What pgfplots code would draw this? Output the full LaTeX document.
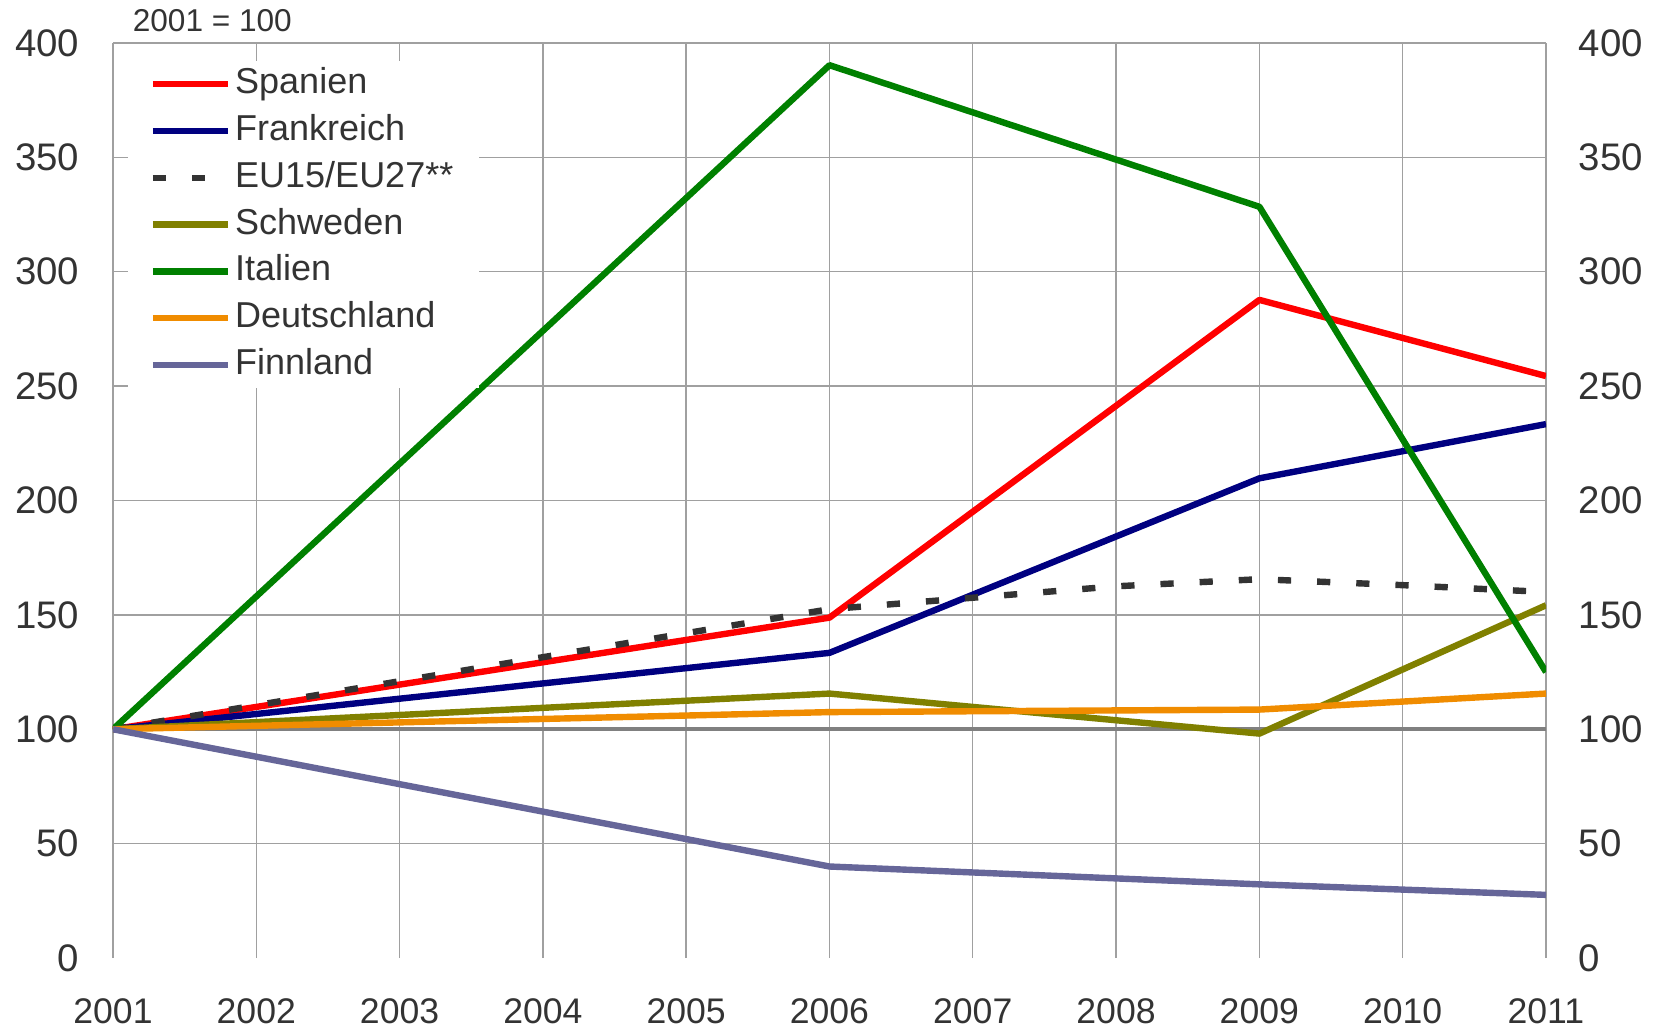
\documentclass[border=0pt]{standalone}
\usepackage{fontspec}
\setmainfont{Liberation Sans}
\usepackage{pgfplots}
\pgfplotsset{compat=1.18}
\definecolor{txt}{HTML}{333333}
\definecolor{gridc}{HTML}{A0A0A0}
\definecolor{hundred}{HTML}{808080}
\definecolor{cES}{HTML}{FF0000}
\definecolor{cFR}{HTML}{000080}
\definecolor{cEU}{HTML}{333333}
\definecolor{cSE}{HTML}{808000}
\definecolor{cIT}{HTML}{008000}
\definecolor{cDE}{HTML}{F08C00}
\definecolor{cFI}{HTML}{666699}
\begin{document}
\begin{tikzpicture}
\begin{axis}[name=main, scale only axis, width=358.25pt, height=228.75pt,
  xmin=2001, xmax=2011, ymin=0, ymax=400,
  xtick={2001,2002,...,2011}, ytick={50,100,...,400},
  extra y ticks={0}, extra y tick style={grid=none},
  grid=major, major grid style={draw=gridc, line width=0.35pt},
  axis line style={draw=none}, major tick length=0pt,
  /pgf/number format/assume math mode=true,
  /pgf/number format/1000 sep={},
  tick label style={text=txt},
  xticklabel style={font=\fontsize{8.9}{10}\selectfont, anchor=north, inner sep=0pt, yshift=-10pt},
  yticklabel style={font=\fontsize{9.6}{11}\selectfont, anchor=east, inner sep=0pt, xshift=-8.25pt},
  legend style={at={(0.00977,0.98142)}, anchor=north west, fill=white, draw=none,
    inner xsep=5.5pt, inner ysep=0pt, font=\fontsize{9}{10}\selectfont, text=txt,
    nodes={inner xsep=1pt, inner ysep=1.2pt, text height=7pt, text depth=2.3pt},
    row sep=0pt, column sep=0pt},
  legend cell align=left,
  legend image code/.code={\draw[#1] (0pt,0pt) -- (18.75pt,0pt);},
  every axis plot/.append style={line width=1.6pt, line join=round},
]
\addplot[hundred, line width=1pt, forget plot] coordinates {(2001,100) (2011,100)};
\addplot[cES] coordinates {(2001,100) (2006,148.8) (2009,287.7) (2011,254.4)};
\addlegendentry{Spanien}
\addplot[cFR] coordinates {(2001,100) (2006,133.4) (2009,209.7) (2011,233.4)};
\addlegendentry{Frankreich}
\addplot[cEU, line width=1.6pt, dash pattern=on 3.3pt off 6.5pt] coordinates {(2001,100) (2006,152.5) (2007,157.5) (2008,162.5) (2009,165.6) (2010,163) (2011,160)};
\addlegendentry{EU15/EU27**}
\addplot[cSE] coordinates {(2001,100) (2006,115.6) (2009,98.1) (2011,154.2)};
\addlegendentry{Schweden}
\addplot[cIT] coordinates {(2001,100) (2006,390.3) (2009,328.4) (2011,125.0)};
\addlegendentry{Italien}
\addplot[cDE] coordinates {(2001,100) (2006,107.5) (2009,108.6) (2011,115.6)};
\addlegendentry{Deutschland}
\addplot[cFI] coordinates {(2001,100) (2006,40.0) (2009,32.2) (2011,27.6)};
\addlegendentry{Finnland}
\end{axis}
\begin{axis}[scale only axis, width=358.25pt, height=228.75pt,
  at={(main.south west)}, anchor=south west,
  xmin=2001, xmax=2011, ymin=0, ymax=400,
  axis y line*=right, axis x line=none, axis line style={draw=none},
  ytick={0,50,...,400}, major tick length=0pt,
  /pgf/number format/assume math mode=true,
  yticklabel style={font=\fontsize{9.6}{11}\selectfont, text=txt, anchor=west, inner sep=0pt, xshift=8pt},
]
\addplot[draw=none, forget plot] coordinates {(2001,0) (2011,0)};
\end{axis}
\node[anchor=west, font=\fontsize{7.9}{9}\selectfont, text=txt, inner sep=0pt] at ([xshift=4.75pt,yshift=5.5pt]main.north west) {2001 = 100};
\pgfresetboundingbox
\path[use as bounding box] ([xshift=-28.25pt,yshift=-17.25pt]main.south west) rectangle ([xshift=27pt,yshift=10.75pt]main.north east);
\end{tikzpicture}
\end{document}
